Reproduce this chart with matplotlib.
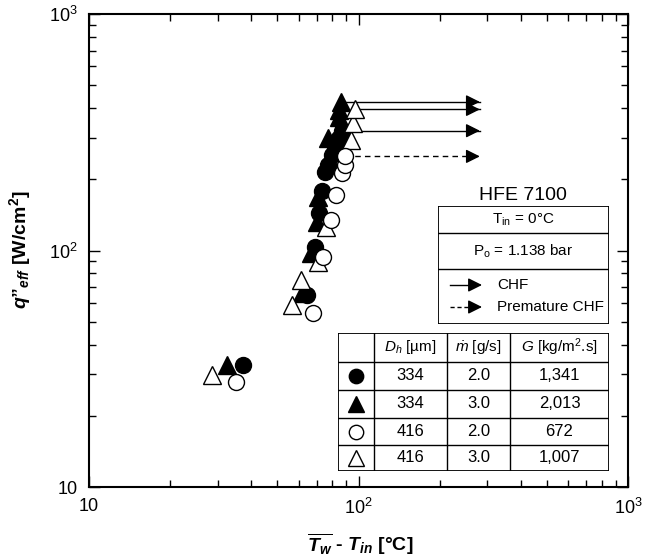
import matplotlib
matplotlib.use('Agg')
from matplotlib import pyplot as plt
from matplotlib.ticker import FuncFormatter, LogLocator, NullFormatter
import numpy as np

plt.rcParams['font.family'] = ['Liberation Sans', 'DejaVu Sans']
plt.rcParams['mathtext.fontset'] = 'custom'
plt.rcParams['mathtext.rm'] = 'Liberation Sans'
plt.rcParams['mathtext.it'] = 'Liberation Sans:italic'
plt.rcParams['mathtext.bf'] = 'Liberation Sans:bold'
plt.rcParams['mathtext.bfit'] = 'Liberation Sans:italic:bold'

# Data
# filled circles: Dh 334, mdot 2.0
fc_x = [37.3, 64.4, 69.0, 71.4, 73.2, 75.1, 77.1, 79.7, 81.8, 84.7, 86.9]
fc_y = [32.8, 64.9, 103.5, 144, 178.5, 215, 230, 253.5, 274, 299, 321]
# filled triangles: Dh 334, mdot 3.0
ft_x = [32.5, 61.7, 66.7, 70.2, 70.8, 77.1, 84.7, 84.7, 86.1]
ft_y = [32.8, 66.1, 97.5, 132, 168.3, 299, 367, 393, 425]
# open circles: Dh 416, mdot 2.0
oc_x = [35.1, 67.8, 73.8, 79.1, 82.5, 86.9, 89.1, 89.1]
oc_y = [27.8, 54.4, 93.9, 134.5, 171.7, 212.5, 230, 250]
# open triangles: Dh 416, mdot 3.0
ot_x = [28.6, 56.7, 61.2, 70.8, 75.7, 93.8, 95.4, 97.0]
ot_y = [29.8, 58.8, 75.0, 89.4, 125.7, 293, 346, 395]

arrow_end = 282
dh = ['334', '334', '416', '416']
mdot = ['2.0', '3.0', '2.0', '3.0']
G = ['1,341', '2,013', '672', '1,007']

# marker, fill, x, y, premature CHF?
series = [('^', 'k', ft_x, ft_y, False),
          ('o', 'k', fc_x, fc_y, False),
          ('^', 'w', ot_x, ot_y, False),
          ('o', 'w', oc_x, oc_y, True)]
msize = {'o': 11.5, '^': 12.5}

fig = plt.figure(figsize=(6.57, 5.58), dpi=100)
ax = fig.add_axes([89/657, 1-487/558, 539/657, 473/558])
ax.set_xscale('log')
ax.set_yscale('log')
ax.set_xlim(10, 1000)
ax.set_ylim(10, 1000)

z = 3
for m, fcol, xs, ys, prem in series:
    ls = (0, (4, 3)) if prem else '-'
    ax.plot([xs[-1], arrow_end], [ys[-1], ys[-1]], color='k', lw=1, ls=ls, zorder=1)
    ax.annotate('', xy=(arrow_end, ys[-1]), xytext=(arrow_end*0.95, ys[-1]),
                arrowprops=dict(arrowstyle='-|>,head_length=0.6,head_width=0.3',
                                mutation_scale=14, color='k', lw=1,
                                shrinkA=0, shrinkB=0), zorder=2)
    ax.plot(xs, ys, ls='none', marker=m, ms=msize[m], mfc=fcol, mec='k',
            mew=1, zorder=z)
    z += 1

def fmt(v, pos):
    e = int(round(np.log10(v)))
    if e == 1:
        return '10'
    return r'$\mathregular{10^{%d}}$' % e

for a in (ax.xaxis, ax.yaxis):
    a.set_major_locator(LogLocator(base=10, numticks=10))
    a.set_major_formatter(FuncFormatter(fmt))
    a.set_minor_formatter(NullFormatter())
ax.tick_params(which='both', direction='in', top=True, right=True, width=1,
               labelsize=13, pad=8)
ax.tick_params(which='major', length=8)
ax.tick_params(which='minor', length=5)
for s in ax.spines.values():
    s.set_linewidth(1.5)

fig.text(20/657, 1-250/558,
         r'$\mathbfit{q}$”$_{\mathbfit{eff}}$ [W/cm$^{\mathbf{2}}$]',
         rotation=90, ha='center', va='center', fontsize=14, fontweight='bold')
fig.text(360/657, 1-544/558,
         r'$\overline{\mathbfit{T}_{\mathbfit{w}}}$ - $\mathbfit{T}_{\mathbfit{in}}$ [°C]',
         ha='center', va='center', fontsize=14, fontweight='bold')

# conditions box
fig.text(523/657, 1-195/558, 'HFE 7100', ha='center', va='center', fontsize=14)
lg = fig.add_axes([438/657, 1-324/558, 171/657, 118/558])
lg.set_xlim(0, 171)
lg.set_ylim(118, 0)
lg.axis('off')
lg.add_patch(plt.Rectangle((0, 0), 171, 118, fc='w', ec='k', lw=1.3))
lg.plot([0, 171], [27, 27], color='k', lw=1)
lg.plot([0, 171], [63, 63], color='k', lw=1)
lg.text(85.5, 14, r'T$_\mathregular{in}$ = 0°C', ha='center', va='center', fontsize=11)
lg.text(85.5, 45, r'P$_\mathregular{o}$ = 1.138 bar', ha='center', va='center', fontsize=11)
for yy, lab, ls in [(79, 'CHF', '-'), (101, 'Premature CHF', (0, (3, 2)))]:
    lg.plot([12, 38], [yy, yy], color='k', lw=1, ls=ls)
    lg.annotate('', xy=(44, yy), xytext=(36, yy),
                arrowprops=dict(arrowstyle='-|>,head_length=0.6,head_width=0.3',
                                mutation_scale=14, color='k', lw=1,
                                shrinkA=0, shrinkB=0))
    lg.text(59, yy, lab, ha='left', va='center', fontsize=11)

# parameter table
tb = fig.add_axes([338/657, 1-471/558, 271/657, 138/558])
tb.set_xlim(0, 271)
tb.set_ylim(138, 0)
tb.axis('off')
tb.add_patch(plt.Rectangle((0, 0), 271, 138, fc='w', ec='k', lw=1.3))
for cx in [36, 109, 172]:
    tb.plot([cx, cx], [0, 138], color='k', lw=1)
for ry in [29, 57, 85, 112]:
    tb.plot([0, 271], [ry, ry], color='k', lw=1)
col_c = [18, 72.5, 140.5, 221.5]
row_c = [14.5, 43, 71, 98.5, 125]
heads = [r'$D_h$ [µm]', r'$\dot{m}$ [g/s]', r'$G$ [kg/m$^\mathregular{2}$.s]']
for c, h in zip(col_c[1:], heads):
    tb.text(c, row_c[0], h, ha='center', va='center', fontsize=11)
order = [1, 0, 3, 2]  # table rows: filled circle, filled tri, open circle, open tri
for i, k in enumerate(order):
    m, fcol = series[k][0], series[k][1]
    tb.plot([col_c[0]], [row_c[i+1]], marker=m, ms=msize[m]*0.9, mfc=fcol,
            mec='k', mew=1, ls='none')
    for c, v in zip(col_c[1:], [dh[i], mdot[i], G[i]]):
        tb.text(c, row_c[i+1], v, ha='center', va='center', fontsize=12)

fig.savefig('out.png', dpi=100)
